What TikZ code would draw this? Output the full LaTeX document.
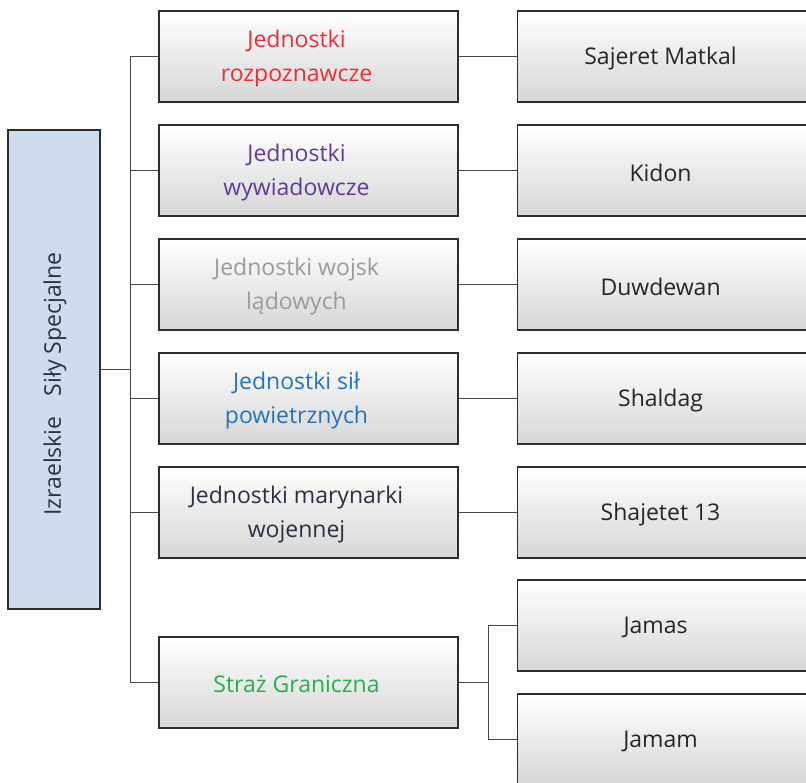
\documentclass[tikz,border=0pt]{standalone}
\usepackage{fontspec}
\setmainfont{Open Sans}
\usepackage{tikz}
\usetikzlibrary{calc}
\definecolor{rootblue}{RGB}{206,220,238}
\definecolor{boxline}{RGB}{45,45,45}
\definecolor{linkgray}{RGB}{70,70,70}
\definecolor{unitred}{RGB}{237,45,50}
\definecolor{unitpurple}{RGB}{98,58,148}
\definecolor{unitgray}{RGB}{155,155,155}
\definecolor{unitblue}{RGB}{34,116,190}
\definecolor{unitnavy}{RGB}{40,50,66}
\definecolor{unitgreen}{RGB}{36,176,76}

\begin{document}
\begin{tikzpicture}[x=1pt, y=-1pt,
    unitbox/.style={draw=boxline, line width=1.1pt, top color=white, middle color=white,
        bottom color=black!16, minimum width=299pt, minimum height=91pt, inner sep=0pt},
    subbox/.style={unitbox, minimum width=310pt, anchor=west},
    unitlabel/.style={align=center, font=\fontsize{23}{34}\selectfont, xshift=-12pt, yshift=-2pt},
    link/.style={draw=linkgray, line width=0.9pt}]
    \useasboundingbox (0,0) rectangle (806,782);
    \clip (0,0) rectangle (806,782);

    % Root
    \node[draw=boxline, line width=1.1pt, fill=rootblue, minimum width=92pt, minimum height=479pt,
        inner sep=0pt] (root) at (54,369.5) {};
    \node[rotate=90, font=\fontsize{23}{28}\selectfont, text=unitnavy] (roottext) at (55,384)
        {Izraelskie\hspace{20pt}Siły Specjalne};

    % Unit types
    \node[unitbox, label={[unitlabel, text=unitred]center:Jednostki\\rozpoznawcze}]           (m1) at (308.5,56.5)  {};
    \node[unitbox, label={[unitlabel, text=unitpurple]center:Jednostki\\wywiadowcze}]         (m2) at (308.5,170.5) {};
    \node[unitbox, label={[unitlabel, text=unitgray]center:Jednostki wojsk\\lądowych}]        (m3) at (308.5,284.5) {};
    \node[unitbox, label={[unitlabel, text=unitblue]center:Jednostki sił\\powietrznych}]      (m4) at (308.5,398.5) {};
    \node[unitbox, label={[unitlabel, text=unitnavy]center:Jednostki marynarki\\wojennej}]    (m5) at (308.5,512.5) {};
    \node[unitbox, label={[unitlabel, text=unitgreen]center:Straż Graniczna}]                 (m6) at (308.5,682.5) {};

    % Units
    \node[subbox, label={[unitlabel, text=black!85]center:Sajeret Matkal}] (r1) at (517,56.5)  {};
    \node[subbox, label={[unitlabel, text=black!85]center:Kidon}]          (r2) at (517,170.5) {};
    \node[subbox, label={[unitlabel, text=black!85]center:Duwdewan}]       (r3) at (517,284.5) {};
    \node[subbox, label={[unitlabel, text=black!85]center:Shaldag}]        (r4) at (517,398.5) {};
    \node[subbox, label={[unitlabel, text=black!85]center:Shajetet 13}]    (r5) at (517,512.5) {};
    \node[subbox, label={[unitlabel, text=black!85, xshift=-5pt]center:Jamas}] (r6) at (517,625.5) {};
    \node[subbox, label={[unitlabel, text=black!85]center:Jamam}]          (r7) at (517,739.5) {};

    % Connectors
    \coordinate (spine) at (130,369.5);
    \draw[link] (root.east) -- (spine);
    \foreach \n in {m1,m2,m3,m4,m5,m6}
        \draw[link] (spine) |- (\n.west);
    \foreach \i in {1,...,5}
        \draw[link] (m\i.east) -- (r\i.west);
    \coordinate (fork) at ($(m6.east)+(30,0)$);
    \draw[link] (m6.east) -- (fork);
    \draw[link] (fork) |- (r6.west);
    \draw[link] (fork) |- (r7.west);
\end{tikzpicture}
\end{document}
